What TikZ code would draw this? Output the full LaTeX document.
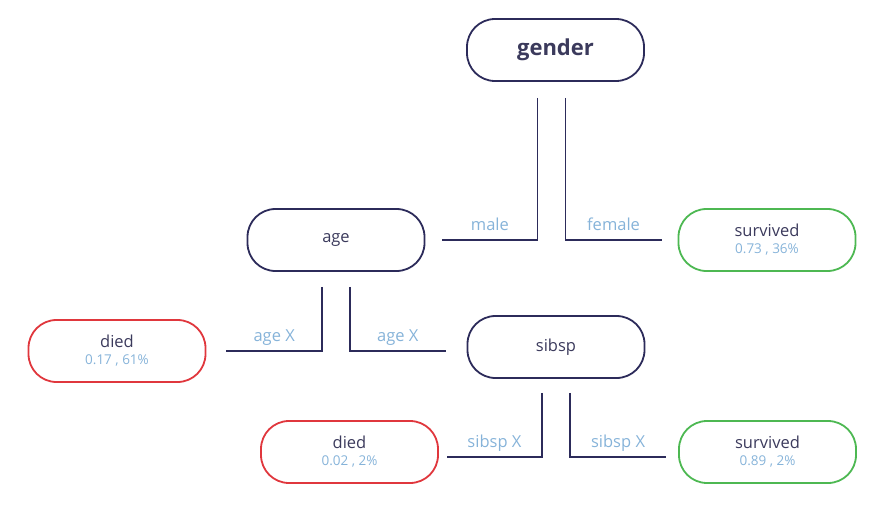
\documentclass[tikz,border=0pt]{standalone}
\usepackage{fontspec}
\setmainfont{Open Sans}
\usepackage{xcolor}
\usetikzlibrary{positioning}

\definecolor{navy}{HTML}{2C2B5A}
\definecolor{ink}{HTML}{3B3A5C}
\definecolor{splitblue}{HTML}{86B3D9}
\definecolor{diedred}{HTML}{E0373D}
\definecolor{survgreen}{HTML}{4DB852}

\tikzset{
  pill/.style={draw=navy, line width=1.8pt, rounded corners=28pt, minimum width=177pt, minimum height=62pt, align=center, text=ink, font=\fontsize{16.5}{17}\selectfont},
  diedbox/.style={pill, draw=diedred},
  survbox/.style={pill, draw=survgreen},
  link/.style={draw=navy, line width=1.8pt},
  branch/.style={pos=0.75, anchor=base, yshift=10pt, text=splitblue, font=\fontsize{16.5}{18}\selectfont},
}
\newcommand{\leafstat}[1]{\\[0pt]{\color{splitblue}\fontsize{13.5}{14}\selectfont #1}}

\begin{document}
\begin{tikzpicture}[x=1pt,y=-1pt]
\useasboundingbox (0,0) rectangle (889,506);

\node[pill, font=\bfseries\fontsize{22}{24}\selectfont] (gender) at (555.5,50) {gender};
\node[pill] (age) at (336,240) {age};
\node[survbox] (survA) at (767,240) {survived\leafstat{0.73 , 36\%}};
\node[diedbox] (diedA) at (117,351) {died\leafstat{0.17 , 61\%}};
\node[pill] (sibsp) at (556,347) {sibsp};
\node[diedbox] (diedB) at (349.5,452) {died\leafstat{0.02 , 2\%}};
\node[survbox] (survB) at (767.5,452) {survived\leafstat{0.89 , 2\%}};

% gender split
\draw[link] ([xshift=-18pt,yshift=-16pt]gender.south) |- ([xshift=17pt]age.east) node[branch]{male};
\draw[link] ([xshift=10pt,yshift=-16pt]gender.south) |- ([xshift=-16pt]survA.west) node[branch]{female};

% age split
\draw[link] ([xshift=-14pt,yshift=-15pt]age.south) |- ([xshift=20pt]diedA.east) node[branch]{age X};
\draw[link] ([xshift=14pt,yshift=-15pt]age.south) |- ([xshift=-21pt,yshift=-4pt]sibsp.west) node[branch]{age X};

% sibsp split
\draw[link] ([xshift=-14pt,yshift=-14pt]sibsp.south) |- ([xshift=8pt,yshift=-5pt]diedB.east) node[branch]{sibsp X};
\draw[link] ([xshift=14pt,yshift=-14pt]sibsp.south) |- ([xshift=-12pt,yshift=-5pt]survB.west) node[branch]{sibsp X};
\end{tikzpicture}
\end{document}
